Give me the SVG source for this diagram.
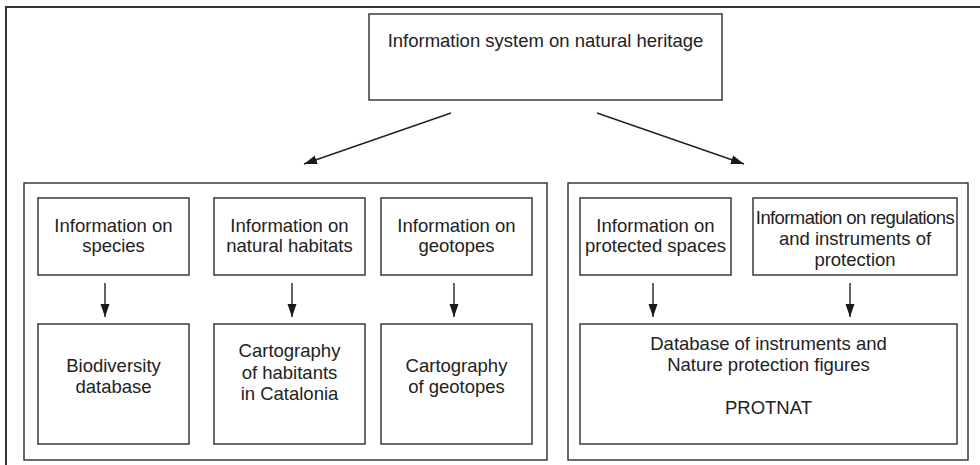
<svg xmlns="http://www.w3.org/2000/svg" width="980" height="465" viewBox="0 0 980 465">
<defs>
<marker id="ah" markerUnits="userSpaceOnUse" markerWidth="14" markerHeight="12" viewBox="0 0 14 12" refX="13" refY="6" orient="auto">
<path d="M0,1.5 L13,6 L0,10.5 Z" fill="#1a1a1a"/>
</marker>
</defs>
<style>
rect{fill:#fff;stroke:#3a3a3a;stroke-width:1.5}
text{font-family:"Liberation Sans",Arial,sans-serif;font-size:18.5px;fill:#222;text-anchor:middle}
.c line{stroke:#222;stroke-width:1.4;marker-end:url(#ah)}
</style>
<rect width="980" height="465" style="stroke:none"/>
<path d="M6,465 V7 H980" fill="none" stroke="#333" stroke-width="2"/>

<g id="top">
<rect x="369" y="14" width="353" height="86"/>
<text x="545.5" y="47">Information system on natural heritage</text>
</g>

<g id="groupLeft">
<rect x="24" y="183" width="523" height="277"/>
</g>
<g id="groupRight">
<rect x="568" y="183" width="400" height="277"/>
</g>

<g id="species">
<rect x="38" y="198" width="151" height="77"/>
<text x="113.5" y="232">Information on</text>
<text x="113.5" y="252">species</text>
</g>
<g id="habitats">
<rect x="214" y="198" width="151" height="77"/>
<text x="289.5" y="232">Information on</text>
<text x="289.5" y="252">natural habitats</text>
</g>
<g id="geotopes">
<rect x="381" y="198" width="151" height="77"/>
<text x="456.5" y="232">Information on</text>
<text x="456.5" y="252">geotopes</text>
</g>
<g id="biodiversity">
<rect x="38" y="324" width="151" height="120"/>
<text x="113.5" y="372">Biodiversity</text>
<text x="113.5" y="393">database</text>
</g>
<g id="cartHabitats">
<rect x="214" y="324" width="151" height="120"/>
<text x="289.5" y="357">Cartography</text>
<text x="289.5" y="379">of habitants</text>
<text x="289.5" y="400">in Catalonia</text>
</g>
<g id="cartGeotopes">
<rect x="381" y="324" width="151" height="120"/>
<text x="456.5" y="372">Cartography</text>
<text x="456.5" y="393">of geotopes</text>
</g>

<g id="protected">
<rect x="580" y="198" width="151" height="77"/>
<text x="655.5" y="232">Information on</text>
<text x="655.5" y="252">protected spaces</text>
</g>
<g id="regulations">
<rect x="753" y="198" width="204" height="77"/>
<text x="855" y="224" style="letter-spacing:-0.6px">Information on regulations</text>
<text x="855" y="245">and instruments of</text>
<text x="855" y="266">protection</text>
</g>
<g id="protnat">
<rect x="580" y="324" width="377" height="120"/>
<text x="768.5" y="350">Database of instruments and</text>
<text x="768.5" y="371">Nature protection figures</text>
<text x="768.5" y="414">PROTNAT</text>
</g>

<g id="connectors" class="c">
<line x1="451" y1="113" x2="304" y2="164"/>
<line x1="597" y1="113" x2="744" y2="164"/>
<line x1="105" y1="283" x2="105" y2="317"/>
<line x1="292" y1="283" x2="292" y2="317"/>
<line x1="454" y1="283" x2="454" y2="317"/>
<line x1="653" y1="283" x2="653" y2="317"/>
<line x1="850" y1="283" x2="850" y2="317"/>
</g>
</svg>
